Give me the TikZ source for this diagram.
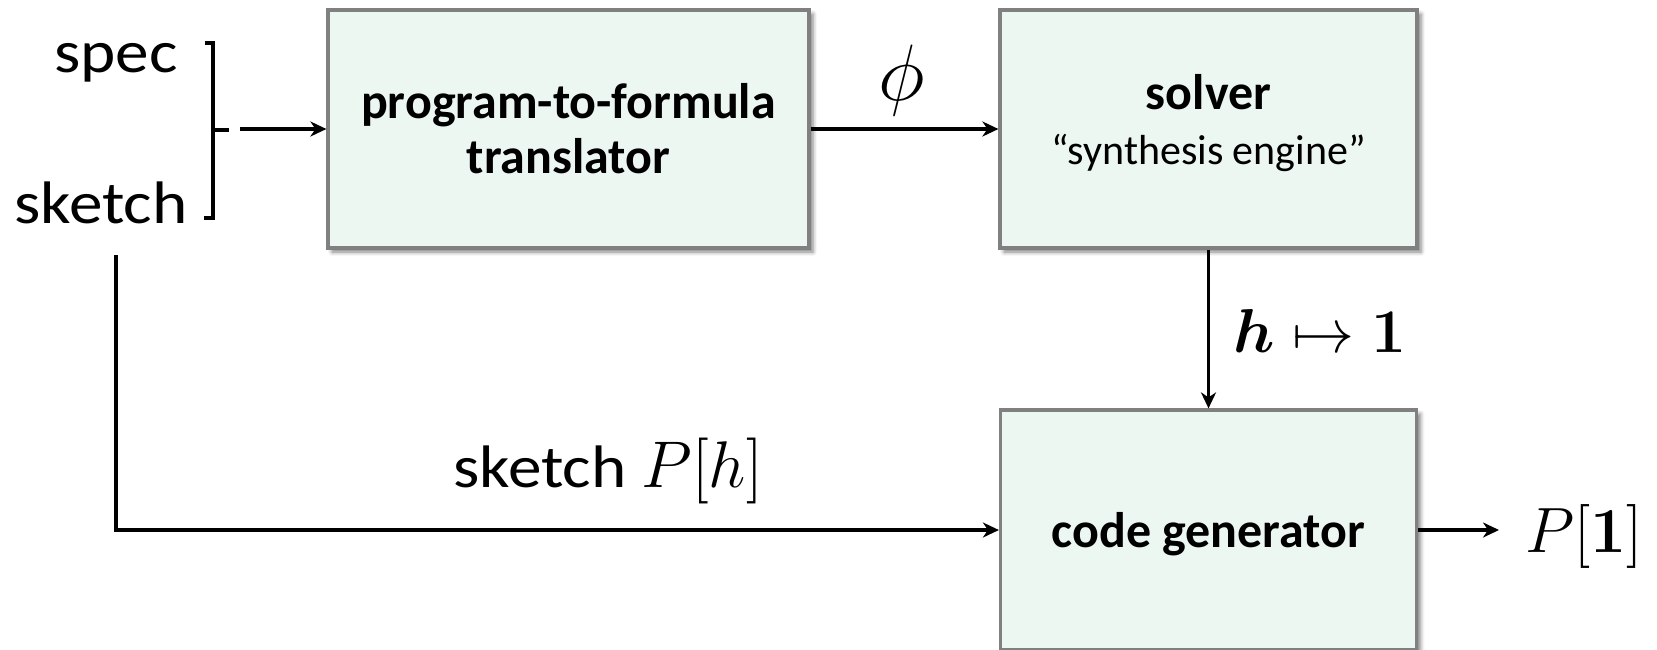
\RequirePackage{fix-cm}
\documentclass[tikz,border=0pt]{standalone}
\usepackage{amsmath}
\usepackage[no-math]{fontspec}
\setmainfont{Carlito}
\newfontfamily\labelfont[FakeStretch=1.12]{Carlito}
\usetikzlibrary{arrows.meta,shadows.blur}
\definecolor{boxfill}{RGB}{237,247,242}
\definecolor{boxline}{RGB}{128,128,128}

\begin{document}
\begin{tikzpicture}[x=0.5pt,y=-0.5pt,
  stage/.style={draw=boxline, line width=1.6pt, fill=boxfill,
    blur shadow={shadow xshift=2pt, shadow yshift=-2pt,
      shadow blur radius=2pt, shadow opacity=50},
    inner sep=0pt, align=center,
    font=\bfseries\fontsize{25}{27.5}\selectfont},
  flow/.style={line width=1.6pt,
    -{Stealth[length=8pt,width=7.5pt,inset=2.5pt]}},
  lbl/.style={inner sep=0pt},
  big/.style={font=\labelfont\fontsize{30}{36}\selectfont},
  mbig/.style={font=\fontsize{31}{36}\selectfont}]

\useasboundingbox (0,0) rectangle (1657,649);
\clip (0,0) rectangle (1657,649);

% processing stages
\node[stage, minimum width=240.5pt, minimum height=119pt] (tr)
  at (568.5,129) {program-to-formula\\translator};
\node[stage, minimum width=208.5pt, minimum height=119pt] (sol)
  at (1208.5,129)
  {solver\\{\mdseries\fontsize{21}{24}\selectfont
   “synthesis engine”\rule[-10pt]{0pt}{0pt}}};
\node[stage, minimum width=208pt, minimum height=120pt,
  text height=22pt, text depth=5pt] (cg)
  at (1208.5,530) {code generator};

% inputs and the bracket that joins them
\node[lbl, big, anchor=base east] (spec) at (178,72) {spec};
\node[lbl, big, anchor=base east] (sketch) at (188,223) {sketch};
\draw[line width=1.6pt] (205,43) -- (213,43) -- (213,218) -- (204,218);
\draw[line width=1.6pt] (213,130) -- (229,130);
\coordinate (brk) at (240,129);
\draw[flow] (brk) -- (tr.west);

% formula to the solver
\draw[flow] (tr) -- (sol);
\node[lbl, font=\fontsize{40}{44}\selectfont] (phi) at (902,80) {$\phi$};

% solution to the code generator
\draw[flow] (sol) -- (cg);
\node[lbl, mbig, anchor=base] (hmap) at (1320,352)
  {$\boldsymbol{h}\mapsto\mathbf{1}$};

% sketch passed straight to the code generator
\coordinate (skstart) at (116,255);
\draw[flow] (skstart) |- (cg.west);
\node[lbl, big, anchor=base west] (skl) at (453,487)
  {sketch {\fontsize{33}{36}\selectfont$P[h]$}};

% output program
\node[lbl, font=\fontsize{32}{36}\selectfont, anchor=base west] (out)
  at (1525,552) {$P[\mathbf{1}]$};
\draw[flow, shorten >=13pt] (cg.east) -- (cg.east -| out.west);
\end{tikzpicture}
\end{document}
